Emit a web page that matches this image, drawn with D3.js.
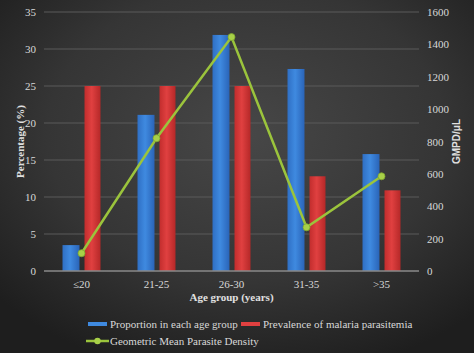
<!DOCTYPE html>
<html><head><meta charset="utf-8">
<script src="https://cdn.jsdelivr.net/npm/d3@7"></script>
<style>html,body{margin:0;padding:0;background:#2a2a2a;}svg{display:block;}</style>
</head><body>
<script>
const categories = ["≤20","21-25","26-30","31-35",">35"];
const proportion = [3.5, 21.1, 31.9, 27.3, 15.8];
const prevalence = [25, 25, 25, 12.8, 10.9];
const gmpd = [110, 820, 1445, 270, 585];
const leftTicks = [0,5,10,15,20,25,30,35];
const rightTicks = [0,200,400,600,800,1000,1200,1400,1600];

const W = 474, H = 353;
const m = {left:44, right:55, top:12, bottom:82};
const svg = d3.select("body").append("svg").attr("width",W).attr("height",H);
const defs = svg.append("defs");
const bg = defs.append("radialGradient").attr("id","bg").attr("cx","0.52").attr("cy","0.38").attr("r","0.7");
bg.append("stop").attr("offset","0").attr("stop-color","#474747");
bg.append("stop").attr("offset","0.6").attr("stop-color","#353535");
bg.append("stop").attr("offset","1").attr("stop-color","#1e1e1e");
function barGrad(id, c1, c2, c3){
  const g = defs.append("linearGradient").attr("id",id).attr("x1","0").attr("x2","1").attr("y1","0").attr("y2","0");
  g.append("stop").attr("offset","0").attr("stop-color",c1);
  g.append("stop").attr("offset","0.45").attr("stop-color",c2);
  g.append("stop").attr("offset","1").attr("stop-color",c3);
}
barGrad("gb","#2f6fc4","#3f8ae0","#2a64b8");
barGrad("gr","#c22d2d","#e04040","#b52828");
svg.append("rect").attr("width",W).attr("height",H).attr("fill","url(#bg)");

const x = d3.scaleBand().domain(categories).range([m.left, W-m.right]);
const yL = d3.scaleLinear().domain([0,35]).range([H-m.bottom, m.top]);
const yR = d3.scaleLinear().domain([0,1600]).range([H-m.bottom, m.top]);

// gridlines
svg.append("g").selectAll("line").data(leftTicks.slice(1)).join("line")
  .attr("x1",m.left).attr("x2",W-m.right).attr("y1",d=>yL(d)).attr("y2",d=>yL(d))
  .attr("stroke","#5a5a5a").attr("stroke-width",1);

const serif = "'Liberation Serif','Times New Roman',serif";
const axL = svg.append("g").attr("transform",`translate(${m.left},0)`)
  .call(d3.axisLeft(yL).tickValues(leftTicks).tickSize(0).tickPadding(8));
axL.select(".domain").remove();
const axR = svg.append("g").attr("transform",`translate(${W-m.right},0)`)
  .call(d3.axisRight(yR).tickValues(rightTicks).tickFormat(d3.format("d")).tickSize(0).tickPadding(8));
axR.select(".domain").remove();
svg.selectAll(".tick text").attr("fill","#d8d8d8").attr("font-family",serif).attr("font-size",11);

const bw = 17;
const cat = svg.append("g");
cat.selectAll(".b").data(proportion).join("rect")
  .attr("x",(d,i)=>x(categories[i])+x.bandwidth()/2-bw-2).attr("width",bw)
  .attr("y",d=>yL(d)).attr("height",d=>yL(0)-yL(d)).attr("fill","url(#gb)");
cat.selectAll(".r").data(prevalence).join("rect")
  .attr("x",(d,i)=>x(categories[i])+x.bandwidth()/2+3).attr("width",bw-1)
  .attr("y",d=>yL(d)).attr("height",d=>yL(0)-yL(d)).attr("fill","url(#gr)");

// baseline
svg.append("line").attr("x1",m.left).attr("x2",W-m.right).attr("y1",yL(0)).attr("y2",yL(0))
  .attr("stroke","#8a8a8a").attr("stroke-width",1.5);

const axB = svg.append("g").attr("transform",`translate(0,${H-m.bottom})`)
  .call(d3.axisBottom(x).tickSize(0).tickPadding(9));
axB.select(".domain").remove();
axB.selectAll("text").attr("fill","#d8d8d8").attr("font-family",serif).attr("font-size",11);

const line = d3.line().x((d,i)=>x(categories[i])+x.bandwidth()/2).y(d=>yR(d));
svg.append("path").datum(gmpd).attr("d",line).attr("fill","none").attr("stroke","#9bc43c").attr("stroke-width",2.5);
svg.selectAll(".pt").data(gmpd).join("circle")
  .attr("cx",(d,i)=>x(categories[i])+x.bandwidth()/2).attr("cy",d=>yR(d)).attr("r",3.5)
  .attr("fill","#a8d048").attr("stroke","#7fa82e").attr("stroke-width",0.8);

// titles
svg.append("text").attr("x",(m.left+W-m.right)/2).attr("y",301).attr("text-anchor","middle")
  .attr("fill","#e0e0e0").attr("font-family",serif).attr("font-weight","bold").attr("font-size",11)
  .text("Age group (years)");
svg.append("text").attr("transform",`translate(24,${(m.top+H-m.bottom)/2}) rotate(-90)`).attr("text-anchor","middle")
  .attr("fill","#e0e0e0").attr("font-family",serif).attr("font-weight","bold").attr("font-size",11)
  .text("Percentage (%)");
svg.append("text").attr("transform",`translate(460,${(m.top+H-m.bottom)/2}) rotate(-90)`).attr("text-anchor","middle")
  .attr("fill","#e0e0e0").attr("font-family","'Liberation Sans',Arial,sans-serif").attr("font-weight","bold").attr("font-size",10)
  .text("GMPD/μL");

// legend
const lg = svg.append("g");
lg.append("rect").attr("x",88).attr("y",322).attr("width",19).attr("height",4).attr("fill","#3f8ae0");
lg.append("text").attr("x",110).attr("y",327.5).attr("fill","#d8d8d8").attr("font-family",serif).attr("font-size",11).text("Proportion in each age group");
lg.append("rect").attr("x",241).attr("y",322).attr("width",19).attr("height",4).attr("fill","#e04040");
lg.append("text").attr("x",263).attr("y",327.5).attr("fill","#d8d8d8").attr("font-family",serif).attr("font-size",11).text("Prevalence of malaria parasitemia");
lg.append("line").attr("x1",86).attr("x2",109).attr("y1",341).attr("y2",341).attr("stroke","#9bc43c").attr("stroke-width",2.5);
lg.append("circle").attr("cx",97.5).attr("cy",341).attr("r",3.2).attr("fill","#a8d048");
lg.append("text").attr("x",110).attr("y",344.5).attr("fill","#d8d8d8").attr("font-family",serif).attr("font-size",11).text("Geometric Mean Parasite Density");
</script>
</body></html>
